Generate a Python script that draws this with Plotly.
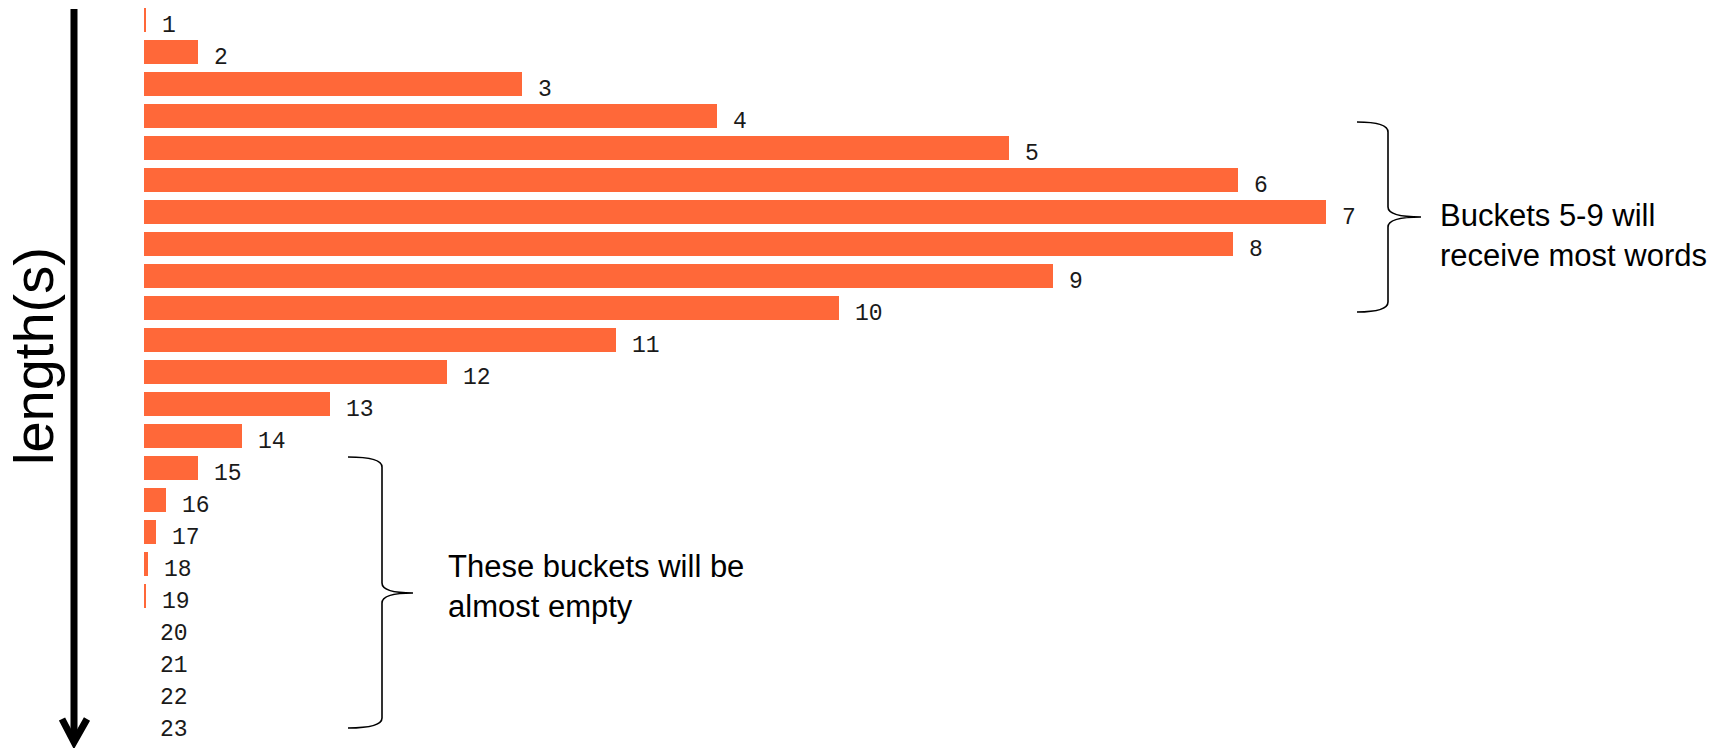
import plotly.graph_objects as go

# ---- data ----
buckets = list(range(1, 24))
counts = [2, 54, 378, 573, 865, 1094, 1182, 1089, 909, 695, 472, 303, 186, 98,
          54, 22, 12, 4, 2, 0, 0, 0, 0]
labels = [str(b) for b in buckets]
axis_title = "length(s)"
note_top = "Buckets 5-9 will<br>receive most words"
note_bottom = "These buckets will be<br>almost empty"

W, H = 1729, 748
X0 = 144          # pixel where bars start
ROW0, PITCH = 20, 32

def dx(px):
    return px - X0

def dy(py):
    return (py - ROW0) / PITCH + 1

BAR = "#ff6839"

fig = go.Figure()
fig.add_trace(go.Bar(
    x=counts, y=buckets, orientation="h", width=0.73,
    marker=dict(color=BAR, line=dict(width=0)),
    hoverinfo="skip", showlegend=False,
))
fig.add_trace(go.Scatter(
    x=[c + 16 for c in counts], y=[b + 0.19 for b in buckets],
    mode="text", text=labels, textposition="middle right",
    textfont=dict(family="Liberation Mono", size=23, color="#1a1a1a"),
    hoverinfo="skip", showlegend=False,
))

def brace(x_end, x_mid, x_tip, y_top, y_tip, y_bot, r=10):
    p = []
    p.append(f"M {dx(x_end)},{dy(y_top)}")
    p.append(f"Q {dx(x_mid)},{dy(y_top)} {dx(x_mid)},{dy(y_top + r)}")
    p.append(f"L {dx(x_mid)},{dy(y_tip - r)}")
    p.append(f"Q {dx(x_mid)},{dy(y_tip)} {dx(x_tip)},{dy(y_tip)}")
    p.append(f"Q {dx(x_mid)},{dy(y_tip)} {dx(x_mid)},{dy(y_tip + r)}")
    p.append(f"L {dx(x_mid)},{dy(y_bot - r)}")
    p.append(f"Q {dx(x_mid)},{dy(y_bot)} {dx(x_end)},{dy(y_bot)}")
    return " ".join(p)

shapes = [
    dict(type="line", xref="x", yref="y", x0=dx(74), x1=dx(74), y0=dy(9), y1=dy(742),
         line=dict(color="black", width=7)),
    dict(type="path", xref="x", yref="y",
         path=f"M {dx(62)},{dy(719)} L {dx(74)},{dy(742)} L {dx(87)},{dy(719)}",
         line=dict(color="black", width=7)),
    dict(type="path", xref="x", yref="y",
         path=brace(1357, 1388, 1421, 122, 217, 312),
         line=dict(color="black", width=1.6)),
    dict(type="path", xref="x", yref="y",
         path=brace(348, 382, 413, 457, 593, 728),
         line=dict(color="black", width=1.6)),
]

annotations = [
    dict(xref="x", yref="y", x=dx(33), y=dy(356), text=axis_title, textangle=-90,
         showarrow=False, font=dict(family="Liberation Sans", size=56, color="black"),
         xanchor="center", yanchor="middle"),
    dict(xref="x", yref="y", x=dx(1438), y=dy(235), text=note_top, align="left",
         showarrow=False, font=dict(family="Liberation Sans", size=31, color="black"),
         xanchor="left", yanchor="middle"),
    dict(xref="x", yref="y", x=dx(446), y=dy(586), text=note_bottom, align="left",
         showarrow=False, font=dict(family="Liberation Sans", size=31, color="black"),
         xanchor="left", yanchor="middle"),
]

fig.update_layout(
    width=W, height=H,
    margin=dict(l=0, r=0, t=0, b=0),
    paper_bgcolor="white", plot_bgcolor="white",
    xaxis=dict(range=[dx(0), dx(W)], visible=False, fixedrange=True),
    yaxis=dict(range=[dy(H), dy(0)], visible=False, fixedrange=True),
    shapes=shapes, annotations=annotations,
    bargap=0,
)

fig.write_html("out.html", config={"displayModeBar": False},
               post_script="document.body.style.margin='0';document.body.style.overflow='hidden';")
